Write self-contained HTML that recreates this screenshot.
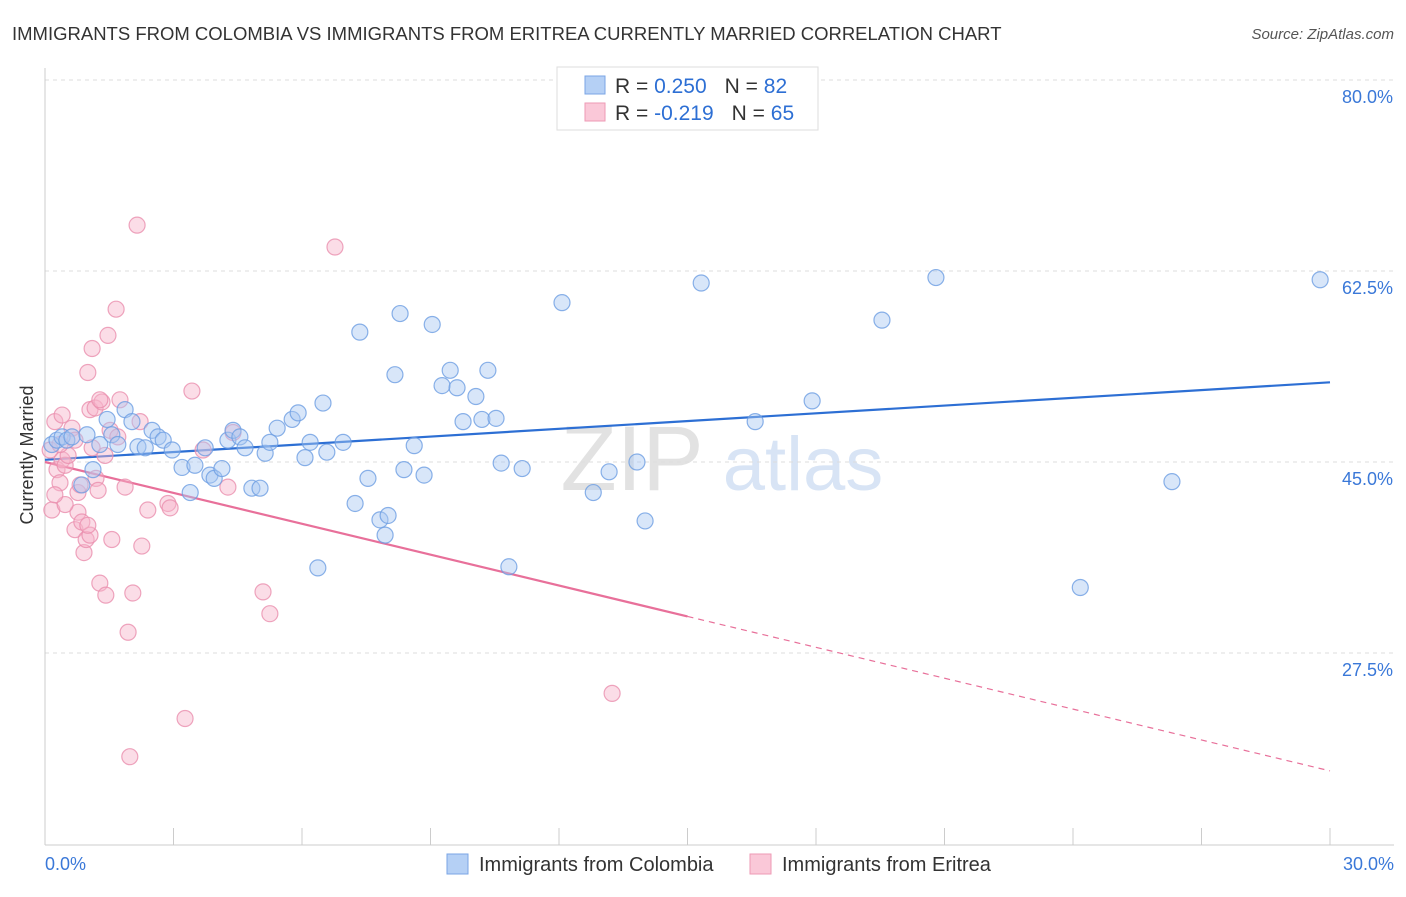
<!DOCTYPE html>
<html><head><meta charset="utf-8"><style>
body{margin:0;background:#fff;font-family:"Liberation Sans",sans-serif;}
svg text{font-family:"Liberation Sans",sans-serif;}
</style></head><body>
<svg id="chart" width="1406" height="892" viewBox="0 0 1406 892">
<text x="12" y="40" font-size="18.5" fill="#333">IMMIGRANTS FROM COLOMBIA VS IMMIGRANTS FROM ERITREA CURRENTLY MARRIED CORRELATION CHART</text>
<text x="1394" y="39" font-size="15" fill="#555" text-anchor="end" font-style="italic">Source: ZipAtlas.com</text>
<g><text x="632" y="490" font-size="92" fill="#e2e2e2" text-anchor="middle" font-family="Liberation Serif">ZIP</text><text x="803" y="490" font-size="76" fill="#d8e4f5" text-anchor="middle">atlas</text></g>
<g id="grid"></g>
<g id="axes"></g>
<text transform="translate(33,455) rotate(-90)" font-size="18" fill="#333" text-anchor="middle">Currently Married</text>
<g id="trend"></g>
<g id="pts"></g>
<g>
<rect x="557" y="67" width="261" height="63" fill="#fff" stroke="#ddd"/>
<rect x="585" y="76" width="20" height="18" fill="#b5d0f5" stroke="#7aa5e5"/>
<rect x="585" y="103" width="20" height="18" fill="#fac8d8" stroke="#ee9ab5"/>
<text x="615" y="93" font-size="21" fill="#333">R = <tspan fill="#2d6fd4"> 0.250</tspan><tspan dx="18">N = </tspan><tspan fill="#2d6fd4">82</tspan></text>
<text x="615" y="120" font-size="21" fill="#333">R = <tspan fill="#2d6fd4">-0.219</tspan><tspan dx="18">N = </tspan><tspan fill="#2d6fd4">65</tspan></text>
</g>
<g>
<rect x="447" y="854" width="21" height="20" fill="#b5d0f5" stroke="#7aa5e5"/>
<text x="479" y="871" font-size="20" fill="#333">Immigrants from Colombia</text>
<rect x="750" y="854" width="21" height="20" fill="#fac8d8" stroke="#ee9ab5"/>
<text x="782" y="871" font-size="20" fill="#333">Immigrants from Eritrea</text>
</g>
</svg>
<script>
const yTicks=[80,62.5,45,27.5];
const yTickLabels=["80.0%","62.5%","45.0%","27.5%"];
const xTicks=[0,3,6,9,12,15,18,21,24,27,30];
const xEndLabels=["0.0%","30.0%"];
const colX=[0.16,0.28,0.4,0.51,0.63,0.98,1.12,0.86,1.28,1.45,1.56,1.7,1.87,2.03,2.17,2.34,2.5,2.64,2.76,2.97,3.2,3.39,3.5,3.74,3.85,3.95,4.13,4.27,4.39,4.55,4.67,4.83,5.02,5.14,5.25,5.42,5.77,5.91,6.07,6.19,6.37,6.49,6.58,6.96,7.24,7.35,7.54,7.82,7.94,8.01,8.17,8.29,8.38,8.62,8.85,9.04,9.27,9.46,9.62,9.76,10.06,10.2,10.34,10.53,10.65,10.83,11.14,12.07,12.8,13.17,13.82,14.01,15.32,16.58,17.91,19.54,20.8,24.17,26.31,29.77];
const colY=[46.6,47.0,47.3,47.0,47.3,47.5,44.3,42.9,46.6,48.9,47.5,46.6,49.8,48.7,46.4,46.3,47.9,47.3,47.0,46.1,44.5,42.2,44.7,46.3,43.8,43.5,44.4,47.0,47.9,47.3,46.3,42.6,42.6,45.8,46.8,48.1,48.9,49.5,45.4,46.8,35.3,50.4,45.9,46.8,41.2,56.9,43.5,39.7,38.3,40.1,53.0,58.6,44.3,46.5,43.8,57.6,52.0,53.4,51.8,48.7,51.0,48.9,53.4,49.0,44.9,35.4,44.4,59.6,42.2,44.1,45.0,39.6,61.4,48.7,50.6,58.0,61.9,33.5,43.2,61.7];
const eriX=[0.12,0.16,0.23,0.28,0.35,0.4,0.47,0.54,0.63,0.7,0.77,0.82,0.7,0.77,0.86,0.91,0.96,1.0,1.05,1.1,1.17,1.19,1.24,1.28,1.33,1.4,1.42,1.52,1.56,1.66,1.7,1.75,1.87,1.94,1.98,2.05,2.15,2.22,2.26,2.4,2.87,2.92,3.27,3.43,3.69,4.27,4.39,5.09,5.25,6.77,13.24,1.47,1.1,0.4,0.47,0.23,1.05,1.28,1.0,0.35];
const eriY=[46.1,40.6,48.7,44.3,43.1,45.2,44.7,45.6,48.1,47.0,42.2,42.9,38.8,40.4,39.5,36.7,37.9,53.2,49.8,46.3,49.95,43.5,42.4,33.9,50.5,45.6,32.8,47.9,37.9,59.0,47.3,50.7,42.7,29.4,18.0,33.0,66.7,48.7,37.3,40.6,41.2,40.8,21.5,51.5,46.1,42.7,47.7,33.1,31.1,64.7,23.8,56.6,55.4,49.3,41.1,42.0,38.3,50.7,39.2,46.6];
const colTrend=[45.2,52.3];
const eriTrend=[45.0,16.7];
const eriSolidEnd=15;
const X0=45,X1=1330,Y80=80,PXY=191/17.5;
const sx=v=>X0+(X1-X0)*v/30;
const sy=v=>Y80+(80-v)*PXY;
const NS="http://www.w3.org/2000/svg";
function mk(tag,attrs,parent){const e=document.createElementNS(NS,tag);for(const k in attrs)e.setAttribute(k,attrs[k]);parent.appendChild(e);return e;}
const grid=document.getElementById('grid'),axes=document.getElementById('axes'),trend=document.getElementById('trend'),pts=document.getElementById('pts');
yTicks.forEach((t,i)=>{
 const l=mk('line',{x1:X0,x2:1394,y1:sy(t),y2:sy(t),stroke:'#ddd','stroke-dasharray':'4,4'},grid);
 
 
 const tx=mk('text',{x:1393,y:sy(t)+23,'font-size':18,fill:'#3a78d8','text-anchor':'end'},axes);
 tx.textContent=yTickLabels[i];
 
 
});
const ya=mk('line',{x1:X0,x2:X0,y1:68,y2:845,stroke:'#ccc'},axes);


const xa=mk('line',{x1:X0,x2:1394,y1:845,y2:845,stroke:'#ccc'},axes);


xTicks.forEach(t=>{
 const l=mk('line',{x1:sx(t),x2:sx(t),y1:828,y2:845,stroke:'#ccc'},axes);
 
 
});
[[0,'start',45],[30,'end',1394]].forEach((d,i)=>{
 const tx=mk('text',{x:d[2],y:870,'font-size':18,fill:'#3a78d8','text-anchor':d[1]},axes);
 tx.textContent=xEndLabels[i];
 
 
});
function dot(x,y,fill,stroke,name){
 const c=mk('circle',{cx:sx(x),cy:sy(y),r:8,fill:fill,'fill-opacity':0.45,stroke:stroke,'stroke-width':1.2,'stroke-opacity':0.8},pts);
 
 
}
eriX.forEach((x,i)=>dot(x,eriY[i],'#f7b3c9','#ea8fae','point-eritrea'));
colX.forEach((x,i)=>dot(x,colY[i],'#a9c8f2','#6d9de2','point-colombia'));
const bl=mk('line',{x1:sx(0),y1:sy(colTrend[0]),x2:sx(30),y2:sy(colTrend[1]),stroke:'#2d6fd4','stroke-width':2.2},trend);


const ym=eriTrend[0]+(eriTrend[1]-eriTrend[0])*eriSolidEnd/30;
const pl=mk('line',{x1:sx(0),y1:sy(eriTrend[0]),x2:sx(eriSolidEnd),y2:sy(ym),stroke:'#e8709a','stroke-width':2.2},trend);


const pd=mk('line',{x1:sx(eriSolidEnd),y1:sy(ym),x2:sx(30),y2:sy(eriTrend[1]),stroke:'#e8709a','stroke-width':1.2,'stroke-dasharray':'6,5'},trend);


</script>
</body></html>
